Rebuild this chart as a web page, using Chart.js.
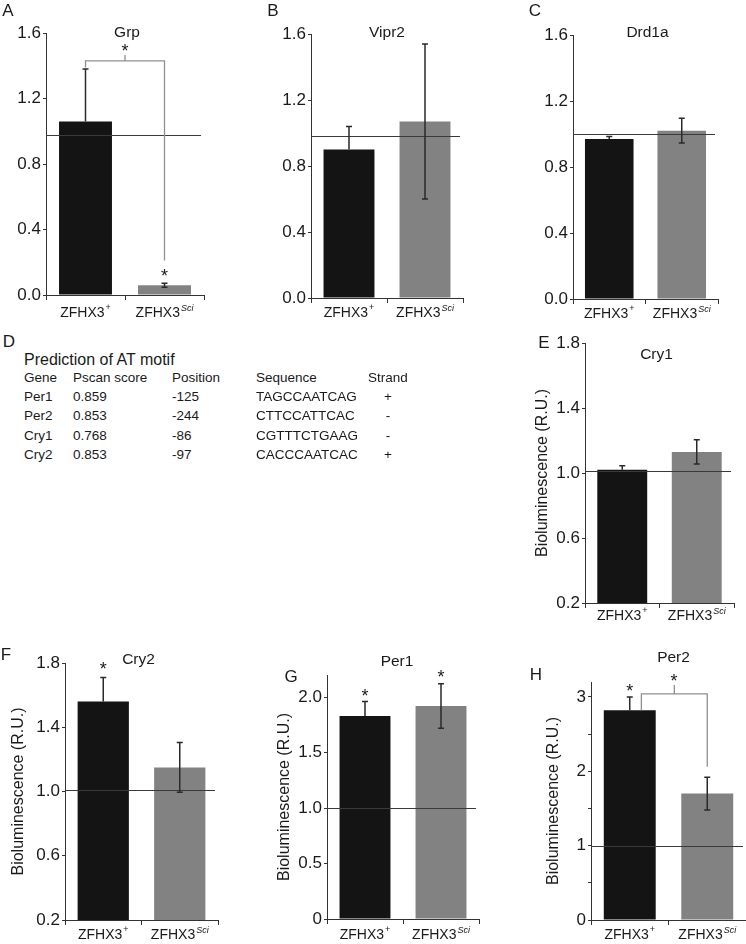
<!DOCTYPE html>
<html>
<head>
<meta charset="utf-8">
<script src="https://cdn.jsdelivr.net/npm/chart.js@4.4.1/dist/chart.umd.min.js"></script>
<style>
body{margin:0;background:#fff;width:746px;height:944px;position:relative;overflow:hidden;font-family:"Liberation Sans",Arial,sans-serif;color:#1a1a1a}
canvas{position:absolute}
.lbl{position:absolute;font-size:17px;transform:translate(-50%,-50%)}
.d{position:absolute;font-size:13.5px;white-space:nowrap;transform:translateY(-50%)}
</style>
</head>
<body>
<script>
const FONT = "Liberation Sans";

// groups on every panel
const groups = ["ZFHX3", "ZFHX3"];
const groupSup = ["+", "Sci"];
const barColors = ["#141414", "#828282"];
// lower half of the error bar only shows on the grey bar
const showLowWhisker = [false, true];

// expression / bioluminescence values (mean, error)
const grpMean = [1.06, 0.06],  grpErr = [0.32, 0.012];
const vipr2Mean = [0.90, 1.07], vipr2Err = [0.14, 0.47];
const drd1aMean = [0.97, 1.02], drd1aErr = [0.015, 0.075];
const cry1Mean = [1.02, 1.13], cry1Err = [0.025, 0.075];
const cry2Mean = [1.56, 1.15], cry2Err = [0.15, 0.155];
const per1Mean = [1.83, 1.92], per1Err = [0.13, 0.2];
const per2Mean = [2.82, 1.70], per2Err = [0.18, 0.22];

// y ticks
const ticks16 = [0, 0.4, 0.8, 1.2, 1.6];
const ticks16Lbl = ["0.0", "0.4", "0.8", "1.2", "1.6"];
const ticks18 = [0.2, 0.6, 1.0, 1.4, 1.8];
const ticks18Lbl = ["0.2", "0.6", "1.0", "1.4", "1.8"];
const ticksPer1 = [0, 0.5, 1, 1.5, 2];
const ticksPer1Lbl = ["0", "0.5", "1.0", "1.5", "2.0"];
const ticksPer2 = [0, 0.5, 1, 1.5, 2, 2.5, 3];
const ticksPer2Lbl = ["0", "", "1", "", "2", "", "3"];

// panel D table
const motifHead = ["Gene", "Pscan score", "Position", "Sequence", "Strand"];
const motifGenes = ["Per1", "Per2", "Cry1", "Cry2"];
const motifScores = ["0.859", "0.853", "0.768", "0.853"];
const motifPos = ["-125", "-244", "-86", "-97"];
const motifSeq = ["TAGCCAATCAG", "CTTCCATTCAC", "CGTTTCTGAAG", "CACCCAATCAC"];
const motifStrand = ["+", "-", "-", "+"];

Chart.defaults.font.family = FONT;

function letter(t, x, y) {
    let d = document.createElement("div");
    d.className = "lbl";
    d.textContent = t;
    d.style.left = x + "px";
    d.style.top = y + "px";
    document.body.appendChild(d);
}
function dtext(t, x, y, size) {
    let d = document.createElement("div");
    d.className = "d";
    d.textContent = t;
    d.style.left = x + "px";
    d.style.top = y + "px";
    if (size) d.style.fontSize = size;
    document.body.appendChild(d);
    return d;
}

function extras(o) {
    return {
        id: "extras",
        afterDatasetsDraw(chart) {
            const ctx = chart.ctx, xs = chart.scales.x, ys = chart.scales.y, a = chart.chartArea;
            ctx.save();
            // reference line at 1
            ctx.strokeStyle = "#3a3a3a";
            ctx.lineWidth = 1;
            let ry = Math.round(ys.getPixelForValue(o.ref)) + 0.5;
            ctx.beginPath();
            ctx.moveTo(a.left, ry);
            ctx.lineTo(a.right - 3, ry);
            ctx.stroke();
            // error bars
            ctx.lineWidth = 1.5;
            ctx.strokeStyle = "#2a2a2a";
            o.mean.forEach((m, i) => {
                let x = xs.getPixelForValue(i);
                let c = ys.getPixelForValue(m);
                let t = ys.getPixelForValue(m + o.err[i]);
                let b = ys.getPixelForValue(m - o.err[i]);
                ctx.beginPath();
                ctx.moveTo(x, c); ctx.lineTo(x, t);
                ctx.moveTo(x - 3, t); ctx.lineTo(x + 3, t);
                if (showLowWhisker[i]) {
                    ctx.moveTo(x, c); ctx.lineTo(x, b);
                    ctx.moveTo(x - 3, b); ctx.lineTo(x + 3, b);
                }
                ctx.stroke();
            });
            // bracket
            if (o.bracket) {
                const k = o.bracket;
                let x1 = xs.getPixelForValue(k.x1), x2 = xs.getPixelForValue(k.x2);
                let top = ys.getPixelForValue(k.top);
                ctx.strokeStyle = "#909090";
                ctx.lineWidth = 1.3;
                ctx.beginPath();
                ctx.moveTo(x1, ys.getPixelForValue(k.v1));
                ctx.lineTo(x1, top);
                ctx.lineTo(x2, top);
                ctx.lineTo(x2, ys.getPixelForValue(k.v2));
                ctx.moveTo((x1 + x2) / 2, top);
                ctx.lineTo((x1 + x2) / 2, ys.getPixelForValue(k.tip));
                ctx.stroke();
            }
            // stars
            ctx.fillStyle = "#1a1a1a";
            ctx.font = "18px " + FONT;
            ctx.textAlign = "center";
            ctx.textBaseline = "alphabetic";
            (o.stars || []).forEach(s => {
                ctx.fillText("*", xs.getPixelForValue(s.x), ys.getPixelForValue(s.v) + 10);
            });
            // gene title
            ctx.font = "15.5px " + FONT;
            ctx.textBaseline = "middle";
            ctx.fillText(o.title, (a.left + a.right) / 2 + o.tdx, a.top + o.tdy);
            // x labels with superscripts
            groups.forEach((g, i) => {
                let cx = xs.getPixelForValue(i);
                let y = a.bottom + o.xly;
                ctx.font = "14px " + FONT;
                let w1 = ctx.measureText(g).width;
                let supFont = (groupSup[i] === "+" ? "" : "italic ") + "9px " + FONT;
                ctx.font = supFont;
                let w2 = ctx.measureText(groupSup[i]).width;
                let x0 = cx - (w1 + w2 + 1) / 2;
                ctx.textAlign = "left";
                ctx.font = "14px " + FONT;
                ctx.fillText(g, x0, y);
                ctx.font = supFont;
                ctx.fillText(groupSup[i], x0 + w1 + 1, y - 5);
            });
            ctx.restore();
        }
    };
}

function panel(o) {
    const cv = document.createElement("canvas");
    const w = o.aw + (o.R - o.L) + 2;
    const h = o.pt + (o.B - o.T) + 26;
    cv.width = w;
    cv.height = h;
    cv.style.left = (o.L - o.aw) + "px";
    cv.style.top = (o.T - o.pt) + "px";
    document.body.appendChild(cv);
    new Chart(cv, {
        type: "bar",
        data: {
            labels: groups,
            datasets: [{
                data: o.mean,
                backgroundColor: barColors,
                barPercentage: 0.67,
                categoryPercentage: 1
            }]
        },
        options: {
            responsive: false,
            animation: false,
            devicePixelRatio: 1,
            layout: {padding: {top: o.pt, right: 2, left: 0, bottom: 0}},
            plugins: {legend: {display: false}, tooltip: {enabled: false}},
            scales: {
                x: {
                    grid: {drawOnChartArea: false, tickLength: 5, color: "#333"},
                    border: {color: "#333"},
                    ticks: {display: false},
                    afterFit: s => { s.height = 26; }
                },
                y: {
                    min: o.min,
                    max: o.max,
                    grid: {drawOnChartArea: false, tickLength: 3, color: "#333"},
                    border: {color: "#333"},
                    afterBuildTicks: s => { s.ticks = o.ticks.map(v => ({value: v})); },
                    ticks: {
                        padding: 2,
                        color: "#1a1a1a",
                        font: {size: 17},
                        callback: (v, i) => o.tickLbl[i]
                    },
                    title: {
                        display: !!o.ytitle,
                        text: "Bioluminescence (R.U.)",
                        color: "#1a1a1a",
                        font: {size: 16},
                        padding: 0
                    },
                    afterFit: s => { s.width = o.aw; }
                }
            }
        },
        plugins: [extras(o)]
    });
}

// A
panel({title: "Grp", tdx: 2, tdy: 0, xly: 18, L: 46, T: 33, R: 204, B: 295, aw: 46, pt: 33,
    min: 0, max: 1.6, ticks: ticks16, tickLbl: ticks16Lbl, mean: grpMean, err: grpErr, ref: 0.98,
    bracket: {x1: 0, x2: 1, top: 1.43, v1: 1.39, v2: 0.21, tip: 1.466},
    stars: [{x: 0.5, v: 1.515}, {x: 1, v: 0.14}]});
// B
panel({title: "Vipr2", tdx: 0, tdy: -1, xly: 15, L: 311, T: 34, R: 463, B: 298, aw: 46, pt: 32,
    min: 0, max: 1.6, ticks: ticks16, tickLbl: ticks16Lbl, mean: vipr2Mean, err: vipr2Err, ref: 0.98});
// C
panel({title: "Drd1a", tdx: 2, tdy: -2, xly: 15, L: 573, T: 35, R: 718, B: 299, aw: 46, pt: 32,
    min: 0, max: 1.6, ticks: ticks16, tickLbl: ticks16Lbl, mean: drd1aMean, err: drd1aErr, ref: 1.0});
// E
panel({title: "Cry1", tdx: -3, tdy: 12, xly: 13, L: 585, T: 343, R: 734, B: 603, aw: 52, pt: 30, ytitle: true,
    min: 0.2, max: 1.8, ticks: ticks18, tickLbl: ticks18Lbl, mean: cry1Mean, err: cry1Err, ref: 1.01});
// F
panel({title: "Cry2", tdx: -3, tdy: -3, xly: 15, L: 65, T: 663, R: 218, B: 920, aw: 56, pt: 30, ytitle: true,
    min: 0.2, max: 1.8, ticks: ticks18, tickLbl: ticks18Lbl, mean: cry2Mean, err: cry2Err, ref: 1.01,
    stars: [{x: 0, v: 1.787}]});
// G
panel({title: "Per1", tdx: -6, tdy: -13, xly: 16, L: 327, T: 675, R: 479, B: 919, aw: 52, pt: 30, ytitle: true,
    min: 0, max: 2.2, ticks: ticksPer1, tickLbl: ticksPer1Lbl, mean: per1Mean, err: per1Err, ref: 1.0,
    stars: [{x: 0, v: 2.045}, {x: 1, v: 2.216}]});
// H
panel({title: "Per2", tdx: 5, tdy: -24, xly: 15, L: 591, T: 682, R: 746, B: 920, aw: 47, pt: 40, ytitle: true,
    min: 0, max: 3.2, ticks: ticksPer2, tickLbl: ticksPer2Lbl, mean: per2Mean, err: per2Err, ref: 1.0,
    bracket: {x1: 0.15, x2: 1, top: 3.04, v1: 2.82, v2: 2.06, tip: 3.16},
    stars: [{x: 0, v: 3.13}, {x: 0.57, v: 3.27}]});

// panel letters
letter("A", 8, 11);
letter("B", 273, 11);
letter("C", 535, 11);
letter("D", 9, 342);
letter("E", 544, 343);
letter("F", 6, 655);
letter("G", 291, 677);
letter("H", 536, 675);

// panel D table
dtext("Prediction of AT motif", 24, 360, "16px");
const colX = [24, 73, 172, 256, 368];
motifHead.forEach((t, i) => dtext(t, colX[i], 377));
const rowY = [396, 415, 435, 454];
motifGenes.forEach((g, r) => {
    dtext(g, colX[0], rowY[r]);
    dtext(motifScores[r], colX[1], rowY[r]);
    dtext(motifPos[r], colX[2], rowY[r]);
    dtext(motifSeq[r], colX[3], rowY[r]);
    let s = dtext(motifStrand[r], 388, rowY[r]);
    s.style.transform = "translate(-50%,-50%)";
});
</script>
</body>
</html>
